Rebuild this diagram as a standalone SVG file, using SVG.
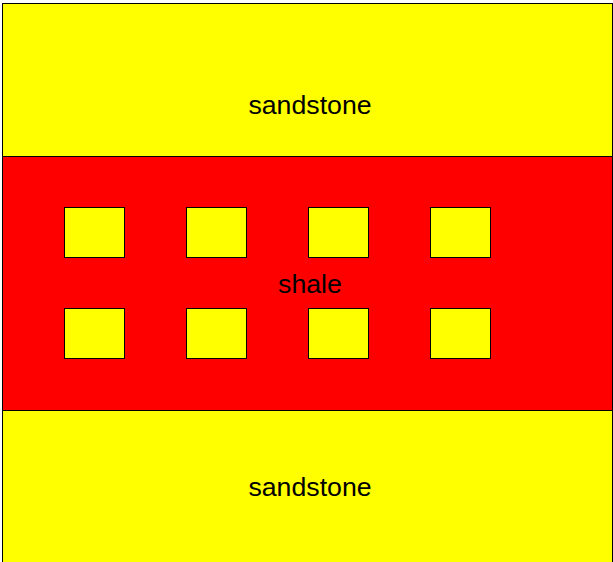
<svg xmlns="http://www.w3.org/2000/svg" width="613" height="562" viewBox="0 0 613 562">
<style>
.l{stroke:#000;stroke-width:1}
.s{fill:#ffff00}
.r{fill:#ff0000}
text{font-family:"Liberation Sans",Arial,sans-serif;font-size:26.7px;fill:#000;text-anchor:middle}
</style>
<rect width="613" height="562" fill="#fff"/>
<g id="sandstone-top"><rect class="s l" x="2.5" y="3.5" width="610" height="153"/><text x="310" y="114">sandstone</text></g>
<g id="shale"><rect class="r l" x="2.5" y="156.5" width="610" height="254"/><text x="310" y="293">shale</text></g>
<g id="sandstone-bottom"><rect class="s l" x="2.5" y="410.5" width="610" height="160"/><text x="310" y="496">sandstone</text></g>
<g id="inclusions">
<rect class="s l" x="64.5" y="207.5" width="60" height="50"/>
<rect class="s l" x="186.5" y="207.5" width="60" height="50"/>
<rect class="s l" x="308.5" y="207.5" width="60" height="50"/>
<rect class="s l" x="430.5" y="207.5" width="60" height="50"/>
<rect class="s l" x="64.5" y="308.5" width="60" height="50"/>
<rect class="s l" x="186.5" y="308.5" width="60" height="50"/>
<rect class="s l" x="308.5" y="308.5" width="60" height="50"/>
<rect class="s l" x="430.5" y="308.5" width="60" height="50"/>
</g>
</svg>
